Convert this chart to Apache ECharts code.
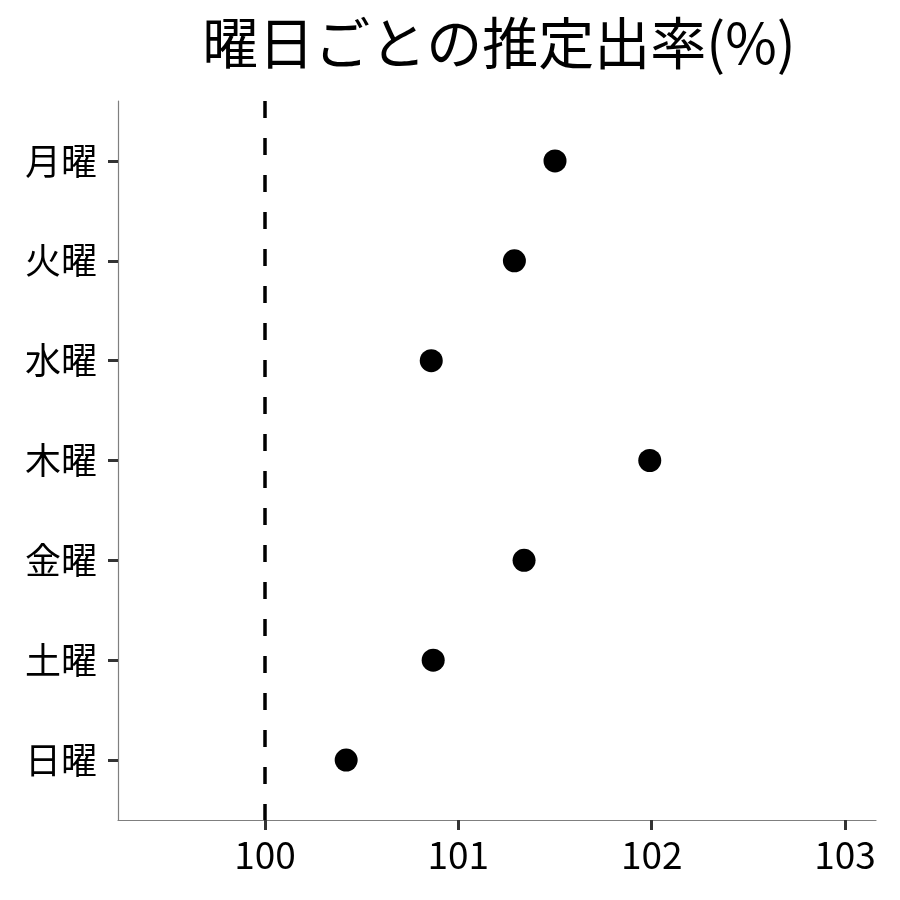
<!DOCTYPE html>
<html lang="ja">
<head>
<meta charset="UTF-8">
<title>曜日ごとの推定出率</title>
<script src="https://cdn.jsdelivr.net/npm/echarts@6/dist/echarts.min.js"></script>
<style>
  html, body { margin: 0; padding: 0; background: #fff; }
  #chart { width: 900px; height: 900px; }
</style>
</head>
<body>
<div id="chart"></div>
<script>
// data
var days = ['月曜', '火曜', '水曜', '木曜', '金曜', '土曜', '日曜'];
var rates = [101.50, 101.29, 100.86, 101.99, 101.34, 100.87, 100.42];
var xTicks = [100, 101, 102, 103];
var refLine = 100;

var font = '"Noto Sans CJK JP", "Noto Sans", sans-serif';
var chart = echarts.init(document.getElementById('chart'));

var points = [];
for (var i = 0; i < days.length; i++) {
    points.push([rates[i], i]);
}
var dayIdx = days.map(function (d, i) { return i; });

var option = {
    animation: false,
    title: {
        text: '曜日ごとの推定出率(%)',
        left: 494,
        textAlign: 'center',
        top: 10,
        textStyle: { fontFamily: font, fontSize: 56, fontWeight: 'normal', color: '#000' }
    },
    grid: { left: 118, right: 24, top: 101, bottom: 80 },
    xAxis: {
        type: 'value',
        min: 99.24,
        max: 103.16,
        splitLine: { show: false },
        axisLine: { onZero: false, lineStyle: { color: '#7f7f7f', width: 1.2 } },
        axisTick: { customValues: xTicks, length: 10, lineStyle: { color: '#333', width: 3 } },
        axisLabel: {
            customValues: xTicks,
            margin: 16,
            fontFamily: font, fontSize: 37, color: '#000'
        }
    },
    yAxis: {
        type: 'value',
        inverse: true,
        min: -0.6,
        max: 6.6,
        splitLine: { show: false },
        axisLine: { show: true, onZero: false, lineStyle: { color: '#7f7f7f', width: 1.2 } },
        axisTick: { show: true, customValues: dayIdx, length: 10, lineStyle: { color: '#333', width: 3 } },
        axisLabel: {
            customValues: dayIdx,
            margin: 21,
            fontFamily: font, fontSize: 36, color: '#000',
            formatter: function (v) { return days[Math.round(v)]; }
        }
    },
    series: [{
        type: 'scatter',
        data: points,
        symbolSize: 23,
        itemStyle: { color: '#000', opacity: 1 },
        markLine: {
            silent: true,
            symbol: ['none', 'none'],
            label: { show: false },
            lineStyle: { color: '#000', width: 3.5, type: [17, 20] },
            data: [{ xAxis: refLine }]
        }
    }]
};
chart.setOption(option);
</script>
</body>
</html>
